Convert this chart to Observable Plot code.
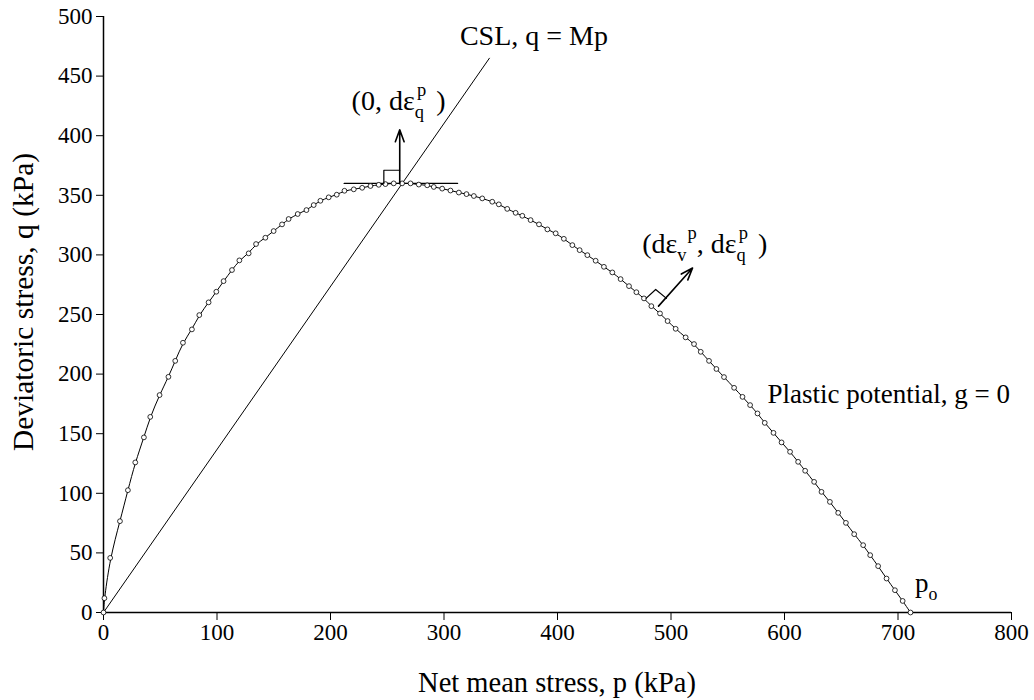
<!DOCTYPE html>
<html>
<head>
<meta charset="utf-8">
<script src="https://cdn.jsdelivr.net/npm/d3@7"></script>
<script src="https://cdn.jsdelivr.net/npm/@observablehq/plot@0.6"></script>
<style>
  html, body { margin: 0; padding: 0; background: #fff; }
  svg { display: block; }
  svg text { font-family: "Liberation Serif", "Times New Roman", serif !important; }
</style>
</head>
<body>
<div id="chart"></div>
<script>
// ---- data (kPa) ----
const xTicks = [0, 100, 200, 300, 400, 500, 600, 700, 800];
const yTicks = [0, 50, 100, 150, 200, 250, 300, 350, 400, 450, 500];

// plastic potential g = 0 (markers)
const curveP = [0, 0.8, 5.9, 14.5, 21.5, 28.0, 35.6, 41.2, 49.4, 57.2, 63.2, 70.0, 77.9, 84.4, 92.6, 99.4,
  105.8, 113.2, 119.7, 127.9, 134.4, 142.6, 149.9, 157.3, 163.1, 171.1, 178.8, 185.2, 191.1, 198.4,
  205.5, 212.3, 220.5, 227.9, 235.2, 242.5, 248.4, 255.7, 263.1, 270.5, 277.8, 285.2, 291.0, 298.4,
  305.7, 313.1, 319.8, 326.3, 333.7, 342.5, 348.3, 355.7, 363.1, 369.0, 376.3, 383.7, 391.1, 398.4,
  405.6, 413.1, 419.5, 426.3, 433.6, 440.9, 448.3, 455.6, 463.0, 469.5, 476.2, 482.7, 490.3, 497.0,
  504.1, 512.9, 520.3, 526.2, 533.5, 540.0, 546.7, 555.6, 563.0, 569.7, 576.2, 582.6, 590.3, 597.4,
  604.9, 612.0, 618.2, 626.1, 632.6, 640.0, 647.3, 654.1, 661.4, 669.3, 675.5, 682.5, 689.9, 697.3,
  704.1, 711.0];
const curveQ = [0, 12, 45.8, 76.6, 102.6, 125.9, 146.9, 164.1, 182.4, 197.7, 211.1, 226.3, 237.5, 249.5, 260.2, 269.1,
  278.0, 287.3, 295.4, 301.3, 309.1, 314.4, 320.0, 325.6, 330.1, 334.3, 337.6, 341.8, 345.4, 348.3,
  350.5, 353.8, 355.0, 356.3, 357.8, 358.8, 359.4, 360.0, 360.0, 360.0, 359.0, 358.4, 357.0, 355.6,
  354.0, 352.3, 351.0, 349.4, 347.4, 344.6, 342.4, 338.6, 335.3, 332.8, 329.2, 325.6, 321.4, 318.1,
  313.5, 308.2, 304.0, 299.8, 295.1, 290.0, 285.3, 279.7, 273.8, 268.7, 263.5, 257.0, 250.9, 244.5,
  238.0, 230.8, 225.2, 218.7, 211.1, 204.3, 197.5, 188.5, 180.9, 174.0, 167.0, 159.1, 150.7, 142.7,
  134.8, 126.4, 118.9, 109.6, 101.2, 92.8, 83.6, 75.2, 65.7, 56.5, 48.1, 38.9, 28.5, 18.7,
  9.7, 0];

// critical state line q = Mp
const cslP = [0, 340];
const cslQ = [0, 465];

// tangent at the top of the potential
const tangentP = [212, 312];
const tangentQ = [360, 360];

// plastic strain increment vectors
const arrowP1 = [261, 489];
const arrowQ1 = [360, 257];
const arrowP2 = [261, 519];
const arrowQ2 = [405, 289];

// right-angle symbols
const sq1P = [247, 247, 261];
const sq1Q = [360, 371, 371];
const sq2P = [478, 486.5, 496];
const sq2Q = [263.5, 271, 263.5];

// annotation labels
const cslLabel = "CSL, q = Mp";
const cslLabelPos = [314, 476];
const ppLabel = "Plastic potential, g = 0";
const ppLabelPos = [585, 175.5];
const vec1Pos = [219, 421.5];
const vec2Pos = [475, 301.5];
const poPos = [715.5, 17];
const xTitle = "Net mean stress, p (kPa)";
const yTitle = "Deviatoric stress, q (kPa)";

// ---- tables ----
const curve = curveP.map((p, i) => ({p, q: curveQ[i]}));
const csl = cslP.map((p, i) => ({p, q: cslQ[i]}));
const tangent = tangentP.map((p, i) => ({p, q: tangentQ[i]}));
const arrows = arrowP1.map((p, i) => ({x1: p, y1: arrowQ1[i], x2: arrowP2[i], y2: arrowQ2[i]}));
const sq1 = sq1P.map((p, i) => ({p, q: sq1Q[i]}));
const sq2 = sq2P.map((p, i) => ({p, q: sq2Q[i]}));

const FONT = "'Liberation Serif', 'Times New Roman', serif";

const plot = Plot.plot({
  width: 1034,
  height: 700,
  marginLeft: 103,
  marginRight: 23,
  marginTop: 16,
  marginBottom: 88,
  style: {fontFamily: FONT, fontSize: "23px", color: "#000", background: "#fff"},
  x: {domain: [0, 800], ticks: xTicks, tickSize: 8, tickPadding: 3, label: null},
  y: {domain: [0, 500], ticks: yTicks, tickSize: 7, tickPadding: 4, label: null},
  marks: [
    Plot.ruleX([0], {stroke: "#000", strokeWidth: 1.5}),
    Plot.ruleY([0], {stroke: "#000", strokeWidth: 1.5}),
    Plot.line(csl, {x: "p", y: "q", stroke: "#000", strokeWidth: 1}),
    Plot.line(tangent, {x: "p", y: "q", stroke: "#000", strokeWidth: 1.2}),
    Plot.line(curve, {x: "p", y: "q", stroke: "#000", strokeWidth: 1, curve: "basis"}),
    Plot.dot(curve, {x: "p", y: "q", r: 2.4, stroke: "#000", strokeWidth: 0.8, fill: "#fff"}),
    Plot.line(sq1, {x: "p", y: "q", stroke: "#000", strokeWidth: 1.2}),
    Plot.line(sq2, {x: "p", y: "q", stroke: "#000", strokeWidth: 1.2}),
    Plot.arrow(arrows, {x1: "x1", y1: "y1", x2: "x2", y2: "y2", stroke: "#000", strokeWidth: 1.6, headLength: 12, headAngle: 40}),
    Plot.text([cslLabel], {x: cslLabelPos[0], y: cslLabelPos[1], textAnchor: "start", fontSize: 28, lineAnchor: "bottom", fill: "#000"}),
    Plot.text([ppLabel], {x: ppLabelPos[0], y: ppLabelPos[1], textAnchor: "start", fontSize: 27, lineAnchor: "bottom", fill: "#000"})
  ]
});

document.getElementById("chart").appendChild(plot);

// rich-text annotations with sub/superscripts, placed through Plot's scales
const sx = plot.scale("x"), sy = plot.scale("y");
const svg = d3.select(plot);

function richText(pos, parts, size) {
  const t = svg.append("text")
    .attr("x", sx.apply(pos[0]))
    .attr("y", sy.apply(pos[1]))
    .attr("text-anchor", "start")
    .attr("font-family", FONT)
    .attr("font-size", size)
    .attr("fill", "#000");
  let shift = 0;
  for (const part of parts) {
    const s = part.sub ? 8 : part.sup ? -14 : 0;
    const ts = t.append("tspan").text(part.t).attr("dy", s - shift);
    if (part.dx) ts.attr("dx", part.dx);
    if (part.sub || part.sup) ts.attr("font-size", size * 0.66);
    shift = s;
  }
}

richText(vec1Pos, [{t: "(0, dε"}, {t: "q", sub: true}, {t: "p", sup: true, dx: -7}, {t: ")", dx: 10}], 28);
richText(vec2Pos, [{t: "(dε"}, {t: "v", sub: true}, {t: "p", sup: true, dx: 1}, {t: ", dε"}, {t: "q", sub: true}, {t: "p", sup: true, dx: -7}, {t: ")", dx: 10}], 28);
richText(poPos, [{t: "p"}, {t: "o", sub: true}], 27);

// axis titles
svg.append("text")
  .attr("x", (sx.range[0] + sx.range[1]) / 2)
  .attr("y", 692)
  .attr("text-anchor", "middle")
  .attr("font-family", FONT).attr("font-size", 28.5).attr("fill", "#000")
  .text(xTitle);
svg.append("text")
  .attr("transform", `translate(33,${302}) rotate(-90)`)
  .attr("text-anchor", "middle")
  .attr("font-family", FONT).attr("font-size", 29.5).attr("fill", "#000")
  .text(yTitle);
</script>
</body>
</html>
